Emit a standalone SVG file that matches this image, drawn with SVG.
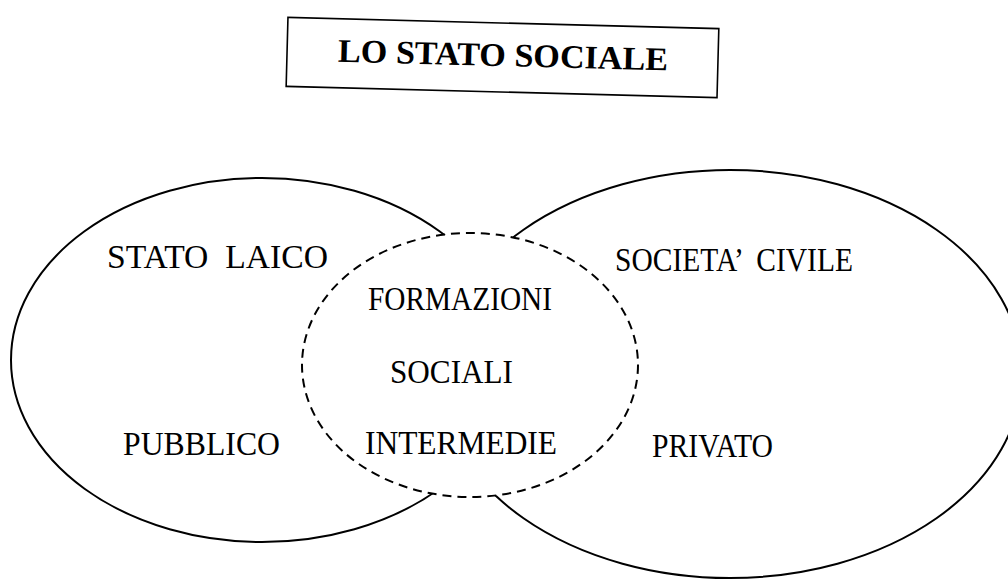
<svg xmlns="http://www.w3.org/2000/svg" width="1008" height="579" viewBox="0 0 1008 579">
<style>
.bg{fill:#fff}
.solid{fill:#fff;stroke:#000;stroke-width:2}
.dash{fill:#fff;stroke:#000;stroke-width:2;stroke-dasharray:9 6}
.box{fill:#fff;stroke:#000;stroke-width:1.6}
.t{font-family:"Liberation Serif","Times New Roman",serif;font-size:33px;fill:#000;white-space:pre}
.title{font-family:"Liberation Serif","Times New Roman",serif;font-size:33px;font-weight:bold;fill:#000}
</style>
<rect class="bg" x="0" y="0" width="1008" height="579"/>
<g id="title" transform="rotate(1.5 502.5 57)">
  <rect class="box" x="287" y="23" width="431" height="69"/>
  <text class="title" x="503" y="66" text-anchor="middle" textLength="330" lengthAdjust="spacingAndGlyphs">LO STATO SOCIALE</text>
</g>
<g id="stato-laico">
  <ellipse class="solid" cx="262" cy="360" rx="251" ry="182"/>
</g>
<g id="societa-civile">
  <ellipse class="solid" cx="730" cy="374" rx="292" ry="204"/>
</g>
<g id="formazioni-sociali">
  <ellipse class="dash" cx="470" cy="365" rx="168" ry="132"/>
</g>
<g id="labels">
  <text class="t" x="107" y="268" textLength="221" lengthAdjust="spacingAndGlyphs" xml:space="preserve">STATO  LAICO</text>
  <text class="t" x="123" y="455" textLength="157" lengthAdjust="spacingAndGlyphs">PUBBLICO</text>
  <text class="t" x="615" y="271" textLength="238" lengthAdjust="spacingAndGlyphs" xml:space="preserve">SOCIETA’  CIVILE</text>
  <text class="t" x="652" y="457" textLength="121" lengthAdjust="spacingAndGlyphs">PRIVATO</text>
  <text class="t" x="368" y="310" textLength="184" lengthAdjust="spacingAndGlyphs">FORMAZIONI</text>
  <text class="t" x="390" y="383" textLength="123" lengthAdjust="spacingAndGlyphs">SOCIALI</text>
  <text class="t" x="365" y="454" textLength="192" lengthAdjust="spacingAndGlyphs">INTERMEDIE</text>
</g>
</svg>
